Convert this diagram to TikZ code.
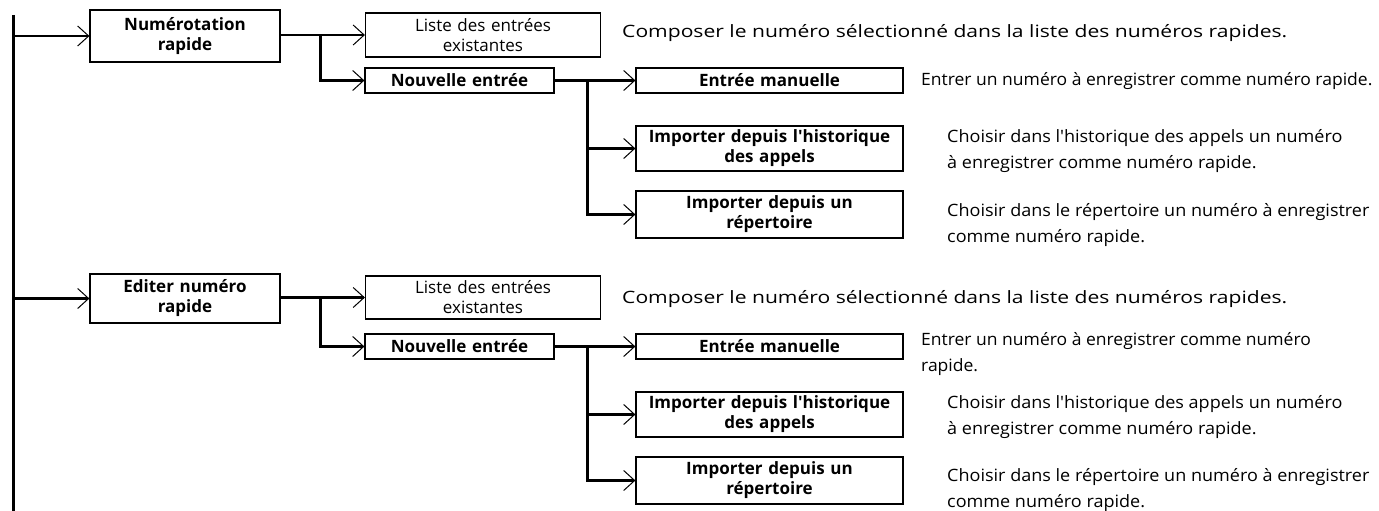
\documentclass[tikz,border=0pt]{standalone}
\usepackage{fontspec}
\setmainfont{Open Sans}
\newfontfamily\infofamily[FakeStretch=1.03]{Open Sans}
\newfontfamily\choicefamily[FakeStretch=1.06]{Open Sans}
\newfontfamily\wideinfofamily[FakeStretch=1.24]{Open Sans}
\usetikzlibrary{arrows.meta}

\newcommand{\boxfont}{\fontsize{17}{20}\selectfont\bfseries}
\newcommand{\listfont}{\fontsize{17}{20}\selectfont}
\newcommand{\infofont}{\infofamily\fontsize{17}{26}\selectfont}
\newcommand{\choicefont}{\choicefamily\fontsize{17}{26}\selectfont}
\newcommand{\wideinfofont}{\wideinfofamily\fontsize{17}{26}\selectfont}

\begin{document}
\begin{tikzpicture}[
  x=1pt, y=-1pt,
  box/.style={
    draw,
    line width=1.2pt,
    align=center,
    inner xsep=0pt,
    inner ysep=0pt,
    font=\boxfont
  },
  mainbox/.style={box, text width=190pt},
  listbox/.style={box, font=\listfont, text width=235pt},
  newbox/.style={box, text width=189pt, minimum height=25pt},
  optbox/.style={box, text width=267pt},
  info/.style={anchor=west, align=left, inner sep=0pt, font=\infofont},
  choiceinfo/.style={info, font=\choicefont},
  wideinfo/.style={info, font=\wideinfofont},
  arrow/.style={line width=2.4pt, -{Straight Barb[length=11pt, width=20pt, line width=1pt]}}
]
\useasboundingbox (0,0) rectangle (1379,511);

% trunk
\coordinate (trunktop) at (13,15);
\coordinate (trunkbot) at (13,511);
\draw[line width=3pt] (trunktop) -- (trunkbot);

% speed dial
\node[mainbox, minimum height=52pt] (speed) at (185,36) {Numérotation\\rapide};
\node[listbox, minimum height=44pt] (speedlist) at (483,35) {Liste des entrées\\existantes};
\node[newbox] (speednew) at (459.5,80.5) {Nouvelle entrée};
\node[optbox, minimum height=25pt] (speedmanual) at (769.5,80.5) {Entrée manuelle};
\node[optbox, minimum height=45pt] (speedhist) at (769.5,148.5) {Importer depuis l\textquotesingle historique\\des appels};
\node[optbox, minimum height=47pt] (speedbook) at (769.5,214.5) {Importer depuis un\\répertoire};

\node[wideinfo] (speedlistinfo) at (622,33) {Composer le numéro sélectionné dans la liste des numéros rapides.};
\node[info] (speedmanualinfo) at (921,81) {Entrer un numéro à enregistrer comme numéro rapide.};
\node[choiceinfo] (speedhistinfo) at (947,151) {Choisir dans l\textquotesingle historique des appels un numéro\\à enregistrer comme numéro rapide.};
\node[choiceinfo] (speedbookinfo) at (947,225) {Choisir dans le répertoire un numéro à enregistrer\\comme numéro rapide.};

\draw[arrow] (trunktop |- speed.west) -- (speed.west);
\draw[arrow] (speed.east |- speedlist.west) -- (speedlist.west);
\draw[arrow] ([xshift=40pt]speed.east |- speedlist.west) |- (speednew.west);
\draw[arrow] (speednew.east) -- (speedmanual.west);
\draw[arrow] ([xshift=33pt]speednew.east) |- (speedhist.west);
\draw[arrow] ([xshift=33pt]speednew.east) |- (speedbook.west);

% edit speed dial
\node[mainbox, minimum height=49pt] (edit) at (185,298.5) {Editer numéro\\rapide};
\node[listbox, minimum height=43pt] (editlist) at (483,297.5) {Liste des entrées\\existantes};
\node[newbox] (editnew) at (459.5,346.5) {Nouvelle entrée};
\node[optbox, minimum height=25pt] (editmanual) at (769.5,346.5) {Entrée manuelle};
\node[optbox, minimum height=45pt] (edithist) at (769.5,414.5) {Importer depuis l\textquotesingle historique\\des appels};
\node[optbox, minimum height=47pt] (editbook) at (769.5,480.5) {Importer depuis un\\répertoire};

\node[wideinfo] (editlistinfo) at (622,299) {Composer le numéro sélectionné dans la liste des numéros rapides.};
\node[info] (editmanualinfo) at (921,354.5) {Entrer un numéro à enregistrer comme numéro\\rapide.};
\node[choiceinfo] (edithistinfo) at (947,417) {Choisir dans l\textquotesingle historique des appels un numéro\\à enregistrer comme numéro rapide.};
\node[choiceinfo] (editbookinfo) at (947,490) {Choisir dans le répertoire un numéro à enregistrer\\comme numéro rapide.};

\draw[arrow] (trunktop |- edit.west) -- (edit.west);
\draw[arrow] (edit.east |- editlist.west) -- (editlist.west);
\draw[arrow] ([xshift=40pt]edit.east |- editlist.west) |- (editnew.west);
\draw[arrow] (editnew.east) -- (editmanual.west);
\draw[arrow] ([xshift=33pt]editnew.east) |- (edithist.west);
\draw[arrow] ([xshift=33pt]editnew.east) |- (editbook.west);
\end{tikzpicture}
\end{document}
